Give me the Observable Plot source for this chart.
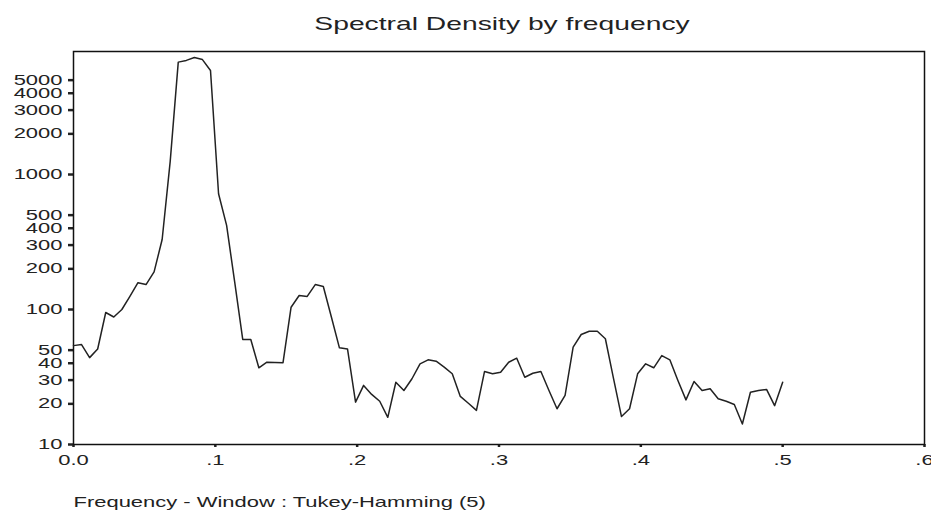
<!DOCTYPE html>
<html>
<head>
<meta charset="utf-8">
<script src="https://cdn.jsdelivr.net/npm/d3@7"></script>
<script src="https://cdn.jsdelivr.net/npm/@observablehq/plot@0.6"></script>
<style>
  body { margin: 0; background: #fff; }
</style>
</head>
<body>
<div id="chart"></div>
<script>
// Spectral density estimate of a series of length 176 (frequencies k/176, k = 0..88)
const title = "Spectral Density by frequency";
const caption = "Frequency - Window : Tukey-Hamming (5)";
const seriesLength = 176;

const density = [
  54, 55, 44, 51, 95, 88, 100, 125, 158, 153,
  190, 330, 1250, 6800, 7000, 7350, 7100, 5900, 720, 420,
  160, 60, 60, 37, 40.7, 40.5, 40.4, 104, 127, 125,
  153, 148, 88, 52, 51, 20.6, 27.4, 23.5, 20.9, 15.9,
  28.9, 25.1, 30.7, 39.6, 42.4, 41.4, 37.4, 33.4, 22.7, 20.2,
  17.9, 34.7, 33.4, 34.3, 40.7, 43.6, 31.5, 33.7, 34.7, 25.1,
  18.4, 23.1, 52.6, 65.3, 69, 69, 60.7, 31, 16.1, 18.4,
  33.4, 39.6, 37, 45.6, 42.4, 29.8, 21.4, 29.3, 25.1, 25.9,
  21.8, 20.9, 19.8, 14.2, 24.4, 25.1, 25.6, 19.4, 28.9
];

const xTicks = [0, 0.1, 0.2, 0.3, 0.4, 0.5, 0.6];
const xTickLabels = ["0.0", ".1", ".2", ".3", ".4", ".5", ".6"];
const yTicks = [10, 20, 30, 40, 50, 100, 200, 300, 400, 500, 1000, 2000, 3000, 4000, 5000];

const rows = density.map((s, k) => ({ frequency: k / seriesLength, density: s }));

const chart = Plot.plot({
  width: 931,
  height: 512,
  marginLeft: 73,
  marginRight: 7,
  marginTop: 51,
  marginBottom: 68,
  style: { fontFamily: "'Liberation Sans', Arial, sans-serif", fontSize: "14px", background: "#fff", color: "#222" },
  x: { domain: [0, 0.6] },
  y: { type: "log", domain: [10, 8150] },
  marks: [
    Plot.axisX({
      ticks: xTicks,
      tickFormat: (d) => xTickLabels[Math.round(d * 10)],
      tickSize: 3,
      tickPadding: 8,
      strokeWidth: 2.5,
      label: null
    }),
    // tick marks only; the log scale's own formatter would thin out the labels
    Plot.axisY({
      ticks: yTicks,
      tickFormat: () => "",
      tickSize: 5,
      strokeWidth: 2.5,
      label: null
    }),
    Plot.text(yTicks, {
      y: (d) => d, text: (d) => String(d), frameAnchor: "left",
      textAnchor: "end", dx: -11, fill: "#222"
    }),
    Plot.frame({ stroke: "#111", strokeWidth: 1.5 }),
    Plot.line(rows, { x: "frequency", y: "density", stroke: "#222", strokeWidth: 1.5 }),
    Plot.text([title], {
      text: (d) => d, frameAnchor: "top", lineAnchor: "bottom",
      dx: 3, dy: -22, fontSize: 18, fill: "#222"
    }),
    Plot.text([caption], {
      text: (d) => d, frameAnchor: "bottom-left", textAnchor: "start", lineAnchor: "bottom",
      dy: 62, fontSize: 14, fill: "#222"
    })
  ]
});

// Widen every label horizontally around its own anchor point
const sx = 1.57;
d3.select(chart).selectAll("text").each(function () {
  const t = d3.select(this);
  const x = t.attr("x");
  if (x != null && !isNaN(+x)) t.attr("x", +x / sx);
  const dx = t.attr("dx");
  if (dx != null && !isNaN(+dx)) t.attr("dx", +dx / sx);
  const tr = t.attr("transform") || "";
  t.attr("transform", `${tr} scale(${sx},1)`);
});

document.getElementById("chart").append(chart);
</script>
</body>
</html>
